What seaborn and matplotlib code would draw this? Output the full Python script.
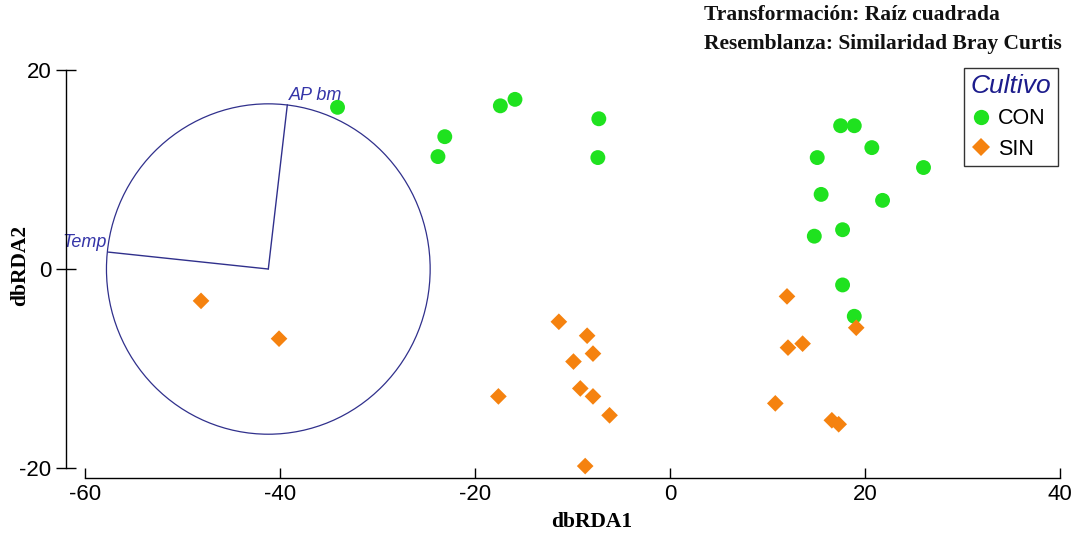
import matplotlib
matplotlib.use("Agg")
import matplotlib.pyplot as plt
from matplotlib.patches import Circle
from matplotlib.lines import Line2D
import seaborn as sns
import pandas as pd

# ---- data ----
con_x = [-34.1, -23.1, -23.8, -17.4, -15.9, -7.3, -7.4,
         17.5, 18.9, 20.7, 15.1, 26.0, 15.5, 21.8, 17.7, 14.8, 17.7, 18.9]
con_y = [16.25, 13.3, 11.3, 16.4, 17.05, 15.1, 11.2,
         14.4, 14.4, 12.2, 11.2, 10.2, 7.5, 6.9, 3.95, 3.3, -1.6, -4.75]
sin_x = [-48.1, -40.1, -11.4, -8.5, -7.9, -9.9, -9.2, -7.9, -17.6, -6.2, -8.7,
         12.0, 19.1, 12.1, 13.6, 10.8, 16.6, 17.3]
sin_y = [-3.2, -7.0, -5.3, -6.7, -8.5, -9.3, -12.0, -12.8, -12.8, -14.7, -19.8,
         -2.75, -5.9, -7.9, -7.5, -13.5, -15.2, -15.6]
groups = ["CON", "SIN"]

vec_names = ["AP bm", "Temp"]
vec_dx = [1.95, -16.4]
vec_dy = [16.5, 1.7]
circle_center = (-41.2, 0.0)
circle_radius = 16.6

x_ticks = [-60, -40, -20, 0, 20, 40]
y_ticks = [-20, 0, 20]
header_lines = ["Transformación: Raíz cuadrada",
                "Resemblanza: Similaridad Bray Curtis"]

df = pd.DataFrame({
    "dbRDA1": con_x + sin_x,
    "dbRDA2": con_y + sin_y,
    "Cultivo": ["CON"] * len(con_x) + ["SIN"] * len(sin_x),
})

sns.set_theme(style="white")
plt.rcParams["font.family"] = ["Liberation Sans", "DejaVu Sans"]
plt.rcParams["text.color"] = "black"

W, H = 1076, 536
fig = plt.figure(figsize=(W / 100, H / 100), dpi=100)
ax_left, ax_right, ax_bottom, ax_top = 66, 1069.75, 478, 50.1
ax = fig.add_axes([ax_left / W, 1 - ax_bottom / H,
                   (ax_right - ax_left) / W, (ax_bottom - ax_top) / H])

colors = {"CON": "#1fe21f", "SIN": "#f5820f"}
markers = {"CON": "o", "SIN": "D"}
sizes = {"CON": 115, "SIN": 72}

for g in groups:
    sns.scatterplot(data=df[df["Cultivo"] == g], x="dbRDA1", y="dbRDA2",
                    color=colors[g], marker=markers[g], s=sizes[g],
                    edgecolor="none", linewidth=0, ax=ax, legend=False, zorder=3)

# vector overlay circle
vcol = "#30308c"
ax.add_patch(Circle(circle_center, circle_radius, fill=False, ec=vcol, lw=0.9, zorder=2))
cx, cy = circle_center
for name, dx, dy in zip(vec_names, vec_dx, vec_dy):
    ax.plot([cx, cx + dx], [cy, cy + dy], color=vcol, lw=1.0, zorder=2)
    ha = "left" if dx > 0 else "right"
    ax.text(cx + dx + (0.2 if dx > 0 else -0.2), cy + dy + 0.1, name,
            ha=ha, va="bottom", fontsize=13, style="italic", color="#3535a8", zorder=1)

ax.set_xlim(-61.95, 41.0)
ax.set_ylim(-21.0, 22.0)
ax.set_xticks(x_ticks)
ax.set_yticks(y_ticks)
ax.set_xticklabels([str(v) for v in x_ticks])
ax.set_yticklabels([str(v) for v in y_ticks])

for s in ["top", "right"]:
    ax.spines[s].set_visible(False)
for s in ["left", "bottom"]:
    ax.spines[s].set_color("black")
    ax.spines[s].set_linewidth(1.0)
ax.spines["bottom"].set_bounds(-60, 40)
ax.spines["left"].set_bounds(-20, 20)

ax.tick_params(axis="x", direction="in", length=7.2, width=1.0, color="black",
               labelsize=16, pad=4, bottom=True, labelcolor="black")
ax.tick_params(axis="y", direction="inout", length=13.7, width=1.0, color="black",
               labelsize=16, pad=3.6, left=True, labelcolor="black")

serif = ["Liberation Serif", "DejaVu Serif"]
ax.set_xlabel("dbRDA1", fontsize=15.5, fontweight="bold", family=serif,
              va="center", color="black")
ax.xaxis.set_label_coords(0.524, (ax_bottom - 522) / (ax_bottom - ax_top))
ax.set_ylabel("dbRDA2", fontsize=15.5, fontweight="bold", family=serif,
              va="center", ha="center", color="black")
ax.yaxis.set_label_coords((20 - ax_left) / (ax_right - ax_left),
                          (ax_bottom - 266) / (ax_bottom - ax_top))

for i, line in enumerate(header_lines):
    fig.text(704 / W, 1 - (15 + 29 * i) / H, line, ha="left", va="center",
             fontsize=15.5, fontweight="bold", family=serif, color="#111111")

handles = [Line2D([], [], ls="none", marker=markers[g], color=colors[g],
                  markersize=(11 if g == "CON" else 8.7), markeredgewidth=0)
           for g in groups]
leg = ax.legend(handles, groups, title="Cultivo", loc="upper right",
                bbox_to_anchor=(1058 / W, 1 - 68 / H), bbox_transform=fig.transFigure,
                fontsize=15.5, title_fontsize=19, frameon=True, fancybox=False,
                edgecolor="black", borderpad=0.3, labelspacing=0.45,
                handletextpad=0.35, handlelength=0.9, borderaxespad=0,
                alignment="left")
leg.get_frame().set_linewidth(1.0)
leg.get_title().set_style("italic")
leg.get_title().set_color("#1c1c8c")
for t in leg.get_texts():
    t.set_color("black")

fig.savefig("out.png", dpi=100, facecolor="white")
